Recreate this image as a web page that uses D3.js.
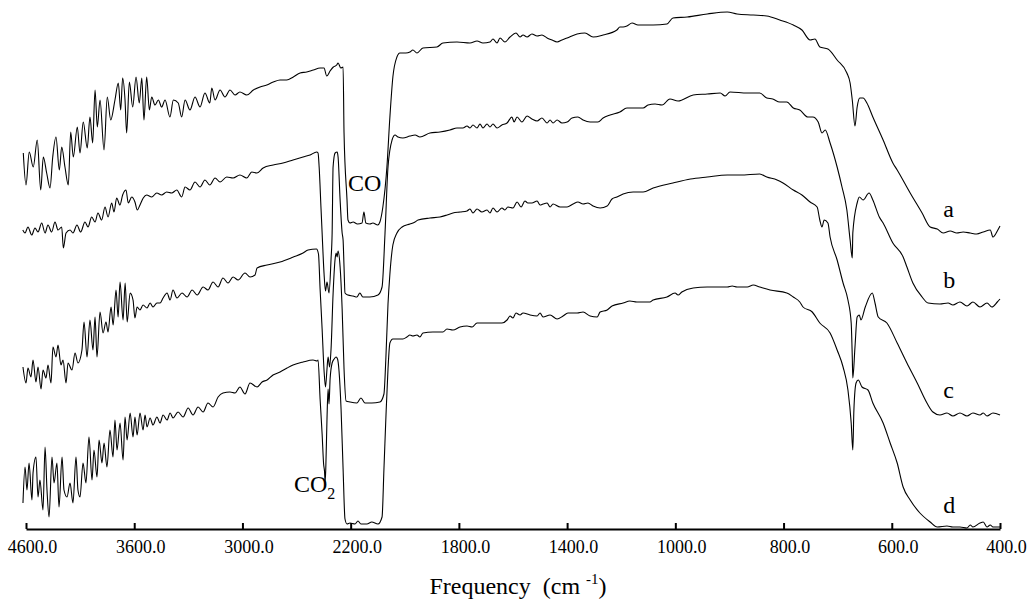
<!DOCTYPE html>
<html>
<head>
<meta charset="utf-8">
<script src="https://cdn.jsdelivr.net/npm/d3@7"></script>
<style>
  body { margin: 0; background: #fff; }
  svg { display: block; }
</style>
</head>
<body>
<div id="canvas"></div>
<script>
// wavenumber ticks (cm-1), the axis is stretched piecewise between them
const tickValues = [4600, 3600, 3000, 2200, 1800, 1400, 1000, 800, 600, 400];

// spectra, [wavenumber, intensity (a.u., height above the axis)]
const spectrumA = [
  [4625,376],[4600,344],[4570,377],[4533,362],[4496,389],[4464,339],[4440,372],[4409,356],[4378,341],[4353,372],
  [4323,392],[4292,359],[4270,382],[4240,362],[4209,344],[4187,397],[4163,372],[4126,402],[4101,376],[4071,407],
  [4034,381],[4009,412],[3984,386],[3962,439],[3941,402],[3916,429],[3879,379],[3849,432],[3817,409],[3778,429],
  [3747,446],[3725,419],[3707,451],[3685,429],[3670,396],[3645,447],[3614,422],[3590,452],[3572,426],[3558,451],
  [3546,409],[3531,452],[3516,419],[3503,432],[3485,424],[3466,429],[3448,422],[3429,429],[3402,412],[3383,429],
  [3356,426],[3337,412],[3318,429],[3291,419],[3263,432],[3235,422],[3208,436],[3181,426],[3170,441],[3152,429],
  [3124,439],[3097,432],[3069,439],[3041,434],[3014,437],[2968,434],[2919,439],[2870,442],[2820,444],[2772,447],
  [2722,449],[2673,449],[2624,452],[2574,456],[2525,457],[2476,459],[2426,461],[2397,461],[2377,453],[2352,458],
  [2328,462],[2303,464],[2293,466],[2273,461],[2256,462],[2249,396],[2227,329],[2220,309],[2205,306],[2191,307],
  [2175,305],[2158,306],[2151,317],[2144,306],[2129,305],[2118,306],[2100,304],[2092,307],[2081,322],[2066,362],
  [2055,412],[2044,452],[2029,472],[2018,476],[1996,476],[1981,477],[1970,479],[1955,476],[1933,481],[1881,482],
  [1859,486],[1807,487],[1759,486],[1733,488],[1711,486],[1685,487],[1674,490],[1659,486],[1648,491],[1630,487],
  [1611,492],[1589,496],[1574,492],[1563,494],[1548,492],[1530,495],[1511,493],[1493,494],[1474,491],[1456,489],
  [1437,487],[1419,489],[1400,491],[1363,495],[1334,496],[1304,492],[1267,494],[1216,499],[1205,502],[1193,502],
  [1179,503],[1160,506],[1138,504],[1119,504],[1094,504],[1082,504],[1031,505],[1009,511],[978,512],[941,515],
  [904,517],[886,515],[856,514],[831,513],[807,509],[782,504],[766,499],[751,489],[742,490],[733,482],
  [718,480],[701,469],[683,456],[677,446],[673,429],[668,403],[664,422],[659,431],[653,431],[646,426],
  [635,412],[616,389],[598,366],[590,359],[566,336],[544,316],[529,302],[516,300],[505,296],[492,298],
  [480,296],[468,297],[455,296],[443,295],[431,297],[418,299],[413,292],[404,299],[400,303]
];

const spectrumB = [
  [4630,299],[4609,296],[4582,302],[4547,294],[4517,301],[4489,297],[4455,306],[4424,296],[4397,304],[4363,297],
  [4332,307],[4304,299],[4270,302],[4255,281],[4230,296],[4193,299],[4166,296],[4129,304],[4095,297],[4055,307],
  [4027,302],[3993,312],[3962,307],[3935,316],[3901,309],[3870,322],[3842,312],[3808,326],[3787,317],[3762,331],
  [3732,324],[3707,334],[3676,339],[3655,326],[3623,332],[3596,327],[3583,319],[3568,324],[3550,331],[3531,334],
  [3503,332],[3475,336],[3448,334],[3420,337],[3392,336],[3364,339],[3337,332],[3318,342],[3291,339],[3263,347],
  [3235,342],[3208,349],[3181,344],[3152,351],[3124,347],[3087,352],[3052,351],[3014,354],[2968,351],[2931,357],
  [2894,356],[2847,361],[2773,364],[2700,366],[2626,369],[2552,372],[2500,374],[2451,377],[2441,376],[2433,362],
  [2419,320],[2411,296],[2397,256],[2386,238],[2375,247],[2360,236],[2345,270],[2337,296],[2330,362],[2315,376],
  [2300,377],[2293,372],[2278,329],[2263,296],[2256,289],[2249,262],[2242,236],[2220,234],[2191,233],[2177,232],
  [2166,236],[2155,232],[2129,232],[2099,234],[2084,242],[2073,296],[2062,362],[2047,389],[2036,394],[2025,392],
  [2007,391],[1981,393],[1962,394],[1944,392],[1907,396],[1870,397],[1833,399],[1807,401],[1785,401],[1770,403],
  [1759,401],[1748,404],[1733,401],[1722,405],[1711,401],[1696,405],[1685,402],[1674,405],[1659,401],[1641,404],
  [1622,406],[1604,412],[1596,407],[1585,412],[1567,407],[1548,413],[1530,410],[1511,408],[1493,411],[1474,406],
  [1463,409],[1452,406],[1437,409],[1419,406],[1400,407],[1382,411],[1360,412],[1341,409],[1315,407],[1286,407],
  [1267,411],[1241,414],[1205,417],[1179,421],[1149,421],[1119,421],[1101,424],[1075,425],[1049,424],[1020,430],
  [995,428],[967,434],[941,435],[917,436],[908,433],[899,437],[867,436],[844,436],[831,431],[820,430],
  [807,427],[794,427],[782,421],[770,419],[755,412],[746,412],[736,407],[729,396],[723,399],[714,386],
  [701,362],[692,342],[683,319],[677,289],[673,271],[672,296],[664,326],[660,332],[653,329],[642,336],
  [635,329],[623,312],[616,306],[598,286],[579,272],[572,262],[561,246],[544,232],[533,226],[511,225],
  [496,226],[487,224],[474,227],[461,223],[450,227],[437,222],[424,226],[415,222],[405,227],[400,230]
];

const spectrumC = [
  [4628,162],[4600,146],[4582,161],[4554,152],[4535,169],[4508,147],[4489,162],[4461,140],[4443,159],[4415,151],
  [4397,164],[4369,146],[4351,182],[4323,172],[4304,184],[4277,164],[4258,169],[4230,146],[4212,166],[4175,159],
  [4147,176],[4120,166],[4083,179],[4064,207],[4036,172],[4009,209],[3981,179],[3962,212],[3944,172],[3916,217],
  [3888,196],[3861,207],[3842,197],[3814,222],[3795,204],[3768,239],[3749,212],[3731,247],[3703,209],[3684,246],
  [3665,207],[3638,236],[3611,229],[3596,211],[3584,222],[3568,219],[3551,224],[3529,221],[3512,226],[3496,222],
  [3474,226],[3457,226],[3440,231],[3418,236],[3401,229],[3385,239],[3363,231],[3335,236],[3307,232],[3279,239],
  [3251,234],[3218,242],[3191,239],[3163,247],[3135,242],[3108,251],[3080,246],[3052,252],[3024,249],[2981,256],
  [2944,252],[2907,254],[2892,261],[2818,264],[2722,267],[2624,272],[2552,276],[2515,279],[2453,280],[2438,275],
  [2426,240],[2411,200],[2397,159],[2386,142],[2375,160],[2367,172],[2356,162],[2345,180],[2330,235],[2315,270],
  [2308,276],[2300,272],[2293,278],[2278,262],[2263,220],[2249,160],[2234,128],[2205,127],[2177,126],[2162,131],
  [2147,126],[2122,126],[2092,127],[2077,135],[2070,170],[2062,225],[2055,255],[2044,284],[2029,296],[2010,302],
  [1981,305],[1962,307],[1951,309],[1907,311],[1870,312],[1844,314],[1822,316],[1796,317],[1770,318],[1759,320],
  [1748,316],[1733,320],[1715,317],[1696,319],[1685,316],[1674,321],[1659,317],[1641,321],[1630,319],[1619,322],
  [1600,321],[1585,327],[1570,322],[1556,328],[1545,326],[1530,326],[1511,328],[1500,324],[1489,325],[1474,326],
  [1463,322],[1452,325],[1426,322],[1400,322],[1378,325],[1360,327],[1341,325],[1323,326],[1304,323],[1278,321],
  [1252,323],[1234,330],[1216,332],[1193,335],[1156,337],[1119,337],[1082,341],[1009,346],[972,350],[941,352],
  [904,354],[880,354],[844,355],[831,352],[812,349],[801,346],[782,339],[766,334],[751,327],[738,322],
  [733,309],[729,302],[725,309],[718,306],[714,292],[701,269],[690,246],[681,229],[675,206],[673,172],
  [672,151],[668,182],[664,212],[660,214],[657,209],[649,222],[636,236],[631,226],[625,212],[609,206],
  [590,186],[572,166],[553,146],[535,126],[524,117],[511,114],[498,116],[487,113],[474,116],[461,113],
  [450,116],[437,114],[431,116],[424,113],[413,116],[400,114]
];

const spectrumD = [
  [4628,26],[4609,62],[4591,39],[4572,66],[4545,29],[4535,56],[4508,72],[4489,32],[4471,49],[4443,19],
  [4424,82],[4406,39],[4387,12],[4360,72],[4341,46],[4314,66],[4295,22],[4267,72],[4249,39],[4221,32],
  [4193,46],[4166,26],[4138,72],[4120,39],[4101,32],[4073,66],[4046,46],[4018,92],[3990,49],[3972,79],
  [3944,52],[3925,89],[3898,66],[3879,86],[3852,62],[3824,99],[3796,72],[3778,109],[3759,79],[3731,106],
  [3703,69],[3685,112],[3666,89],[3638,116],[3611,92],[3596,112],[3584,94],[3568,116],[3551,99],[3540,114],
  [3529,102],[3512,111],[3496,104],[3474,112],[3457,106],[3440,114],[3418,109],[3401,116],[3385,111],[3357,117],
  [3329,112],[3301,121],[3274,114],[3246,122],[3218,117],[3191,126],[3163,122],[3135,132],[3108,136],[3069,137],
  [3041,136],[3014,142],[2981,135],[2944,146],[2892,142],[2855,147],[2818,149],[2774,154],[2722,157],[2670,161],
  [2626,164],[2552,167],[2478,169],[2448,168],[2441,169],[2426,130],[2411,95],[2400,65],[2393,57],[2389,47],
  [2384,60],[2375,110],[2367,140],[2360,125],[2352,150],[2337,166],[2322,170],[2308,172],[2297,170],[2286,158],
  [2271,120],[2256,60],[2242,10],[2227,5],[2205,6],[2184,5],[2173,8],[2162,5],[2140,5],[2122,7],
  [2099,5],[2084,12],[2077,60],[2070,110],[2062,160],[2055,186],[2044,190],[2029,190],[2007,190],[1992,192],
  [1981,194],[1970,193],[1955,194],[1944,192],[1933,196],[1896,197],[1859,197],[1844,200],[1822,199],[1796,202],
  [1770,203],[1751,202],[1733,206],[1711,206],[1685,206],[1659,206],[1641,206],[1622,209],[1611,213],[1600,211],
  [1589,216],[1574,214],[1563,216],[1537,214],[1511,213],[1500,216],[1489,212],[1463,214],[1437,210],[1415,213],
  [1397,216],[1363,216],[1341,217],[1315,213],[1289,212],[1278,217],[1252,219],[1234,223],[1193,226],[1168,228],
  [1142,227],[1094,227],[1082,229],[1031,232],[1001,236],[995,234],[988,237],[967,241],[941,242],[904,242],
  [895,243],[886,242],[867,242],[856,244],[844,242],[825,239],[794,236],[782,232],[770,227],[764,222],
  [747,217],[733,206],[714,196],[701,179],[690,162],[681,139],[675,106],[672,79],[670,119],[666,146],
  [662,149],[655,142],[644,139],[635,126],[616,106],[603,86],[590,66],[579,42],[566,29],[548,16],
  [529,7],[516,2],[498,3],[487,2],[474,2],[461,1],[455,4],[450,2],[437,6],[431,7],
  [424,2],[418,4],[413,2],[400,2]
];

const spectra = [spectrumA, spectrumB, spectrumC, spectrumD];

// text placed in data coordinates [wavenumber, intensity]
const curveLabels = [
  { text: "a", at: [505, 312] },
  { text: "b", at: [505, 241] },
  { text: "c", at: [505, 131] },
  { text: "d", at: [505, 16] }
];
const bandLabels = [
  { text: "CO", sub: "", at: [2219, 338] },
  { text: "CO", sub: "2", at: [2619, 37] }
];

const width = 1031;
const height = 600;
const axisY = 529;
const serif = "'Liberation Serif', 'Times New Roman', serif";

const svg = d3.select("#canvas")
  .append("svg")
  .attr("width", width)
  .attr("height", height)
  .style("background-color", "#fff");

// evenly spaced ticks, piecewise-linear between them
const tickPos = d3.scalePoint().domain(tickValues).range([26, 1000]);
const x = d3.scaleLinear()
  .domain(tickValues)
  .range(tickValues.map(tickPos));

const y = d3.scaleLinear()
  .domain([0, axisY])
  .range([axisY, 0]);

const line = d3.line()
  .x(d => x(d[0]))
  .y(d => y(d[1]))
  .curve(d3.curveMonotoneX);

svg.append("g")
  .selectAll("path")
  .data(spectra)
  .join("path")
  .attr("d", line)
  .attr("fill", "none")
  .attr("stroke", "#000")
  .attr("stroke-width", 1.1)
  .attr("stroke-linejoin", "round");

// axis
const xAxis = d3.axisBottom(x)
  .tickValues(tickValues)
  .tickSizeInner(-6)
  .tickSizeOuter(0)
  .tickPadding(11)
  .tickFormat(d => d.toFixed(1));

svg.append("g")
  .attr("transform", `translate(0,${axisY})`)
  .call(xAxis)
  .attr("font-family", serif)
  .attr("font-size", 18)
  .call(g => g.select(".domain").attr("stroke-width", 2))
  .call(g => g.selectAll(".tick line").attr("stroke-width", 2))
  .call(g => g.selectAll(".tick text").attr("fill", "#000").attr("dx", 6));

// axis title
const title = svg.append("text")
  .attr("x", 518)
  .attr("y", 594)
  .attr("text-anchor", "middle")
  .attr("font-family", serif)
  .attr("font-size", 24)
  .attr("fill", "#000");
title.append("tspan").text("Frequency\u00a0\u00a0(cm\u00a0");
title.append("tspan").attr("font-size", 15).attr("dy", -10).text("-1");
title.append("tspan").attr("dy", 10).text(")");

// curve letters
svg.append("g")
  .selectAll("text")
  .data(curveLabels)
  .join("text")
  .attr("x", d => x(d.at[0]))
  .attr("y", d => y(d.at[1]))
  .attr("font-family", serif)
  .attr("font-size", 24)
  .text(d => d.text);

// band labels
const bands = svg.append("g")
  .selectAll("text")
  .data(bandLabels)
  .join("text")
  .attr("x", d => x(d.at[0]))
  .attr("y", d => y(d.at[1]))
  .attr("font-family", serif)
  .attr("font-size", 24);
bands.append("tspan").text(d => d.text);
bands.append("tspan")
  .attr("font-size", 16)
  .attr("dy", 7)
  .text(d => d.sub);
</script>
</body>
</html>
